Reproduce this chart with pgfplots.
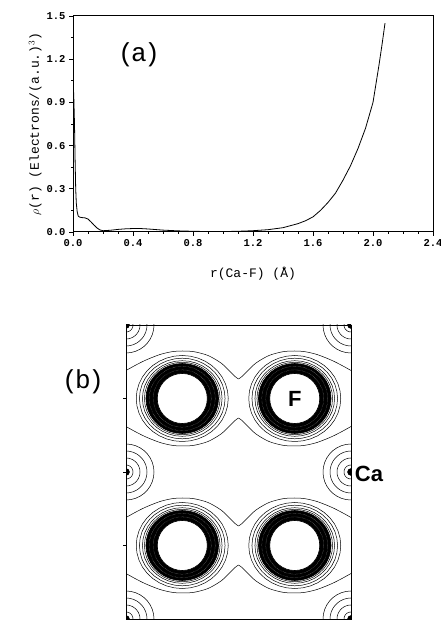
\documentclass[border=0pt]{standalone}
\usepackage{fontspec}
\setmainfont{Liberation Mono}
\newfontfamily\labelsans{Liberation Sans}
\usepackage{pgfplots}
\pgfplotsset{compat=1.18}
\usepackage{pgfplotstable}

% unit circle, 10 degree steps
\pgfplotstableread{
c s
1 0
0.9848 0.1736
0.9397 0.3420
0.8660 0.5
0.7660 0.6428
0.6428 0.7660
0.5 0.8660
0.3420 0.9397
0.1736 0.9848
0 1
-0.1736 0.9848
-0.3420 0.9397
-0.5 0.8660
-0.6428 0.7660
-0.7660 0.6428
-0.8660 0.5
-0.9397 0.3420
-0.9848 0.1736
-1 0
-0.9848 -0.1736
-0.9397 -0.3420
-0.8660 -0.5
-0.7660 -0.6428
-0.6428 -0.7660
-0.5 -0.8660
-0.3420 -0.9397
-0.1736 -0.9848
0 -1
0.1736 -0.9848
0.3420 -0.9397
0.5 -0.8660
0.6428 -0.7660
0.7660 -0.6428
0.8660 -0.5
0.9397 -0.3420
0.9848 -0.1736
1 0
}\unitc

% outer contour joining two F atoms (half, offset from the row centre)
\pgfplotstableread{
x dy
0 28
9 33
20 38.5
34 44
46 46.8
56.25 47.5
68 46.8
82 43
95 35.5
104 27
109 22
112.5 19.5
}\lobe

% rho(r) along Ca-F
\pgfplotstableread{
r rho
0.000 1.05
0.005 0.95
0.010 0.75
0.014 0.50
0.018 0.30
0.022 0.20
0.028 0.14
0.035 0.11
0.045 0.103
0.06 0.10
0.08 0.098
0.10 0.09
0.12 0.07
0.14 0.048
0.16 0.028
0.18 0.014
0.20 0.009
0.25 0.012
0.30 0.018
0.35 0.022
0.40 0.024
0.45 0.024
0.50 0.021
0.55 0.017
0.60 0.013
0.70 0.008
0.80 0.005
0.90 0.003
1.00 0.003
1.10 0.005
1.20 0.009
1.30 0.016
1.40 0.030
1.50 0.058
1.55 0.078
1.60 0.105
1.65 0.150
1.70 0.205
1.75 0.270
1.80 0.360
1.85 0.460
1.90 0.580
1.95 0.720
2.00 0.900
2.02 1.03
2.04 1.16
2.06 1.30
2.08 1.45
}\rhodata

\newcommand{\contourloop}[5][0.5pt]{\addplot[black, line width=#1] table[x expr={#2+#4*\thisrow{c}}, y expr={#3+#5*\thisrow{s}}] {\unitc};}
\newcommand{\filledloop}[5]{\addplot[draw=black, line width=0.6pt, fill=#1] table[x expr={#2+#4*\thisrow{c}}, y expr={#3+#5*\thisrow{s}}] {\unitc};}

\newcommand{\fatom}[2]{%
  \filledloop{black}{#1}{#2}{36.3}{35}
  \filledloop{white}{#1}{#2}{25}{25}
  \addplot[white, line width=0.25pt, densely dotted] table[x expr={#1+29*\thisrow{c}}, y expr={#2+28.7*\thisrow{s}}] {\unitc};
  \addplot[white, line width=0.25pt, densely dotted] table[x expr={#1+33*\thisrow{c}}, y expr={#2+32.2*\thisrow{s}}] {\unitc};
  \contourloop{#1}{#2}{37.8}{36.2}
  \contourloop{#1}{#2}{39.8}{37.8}
  \contourloop{#1}{#2}{42.8}{40.3}
  \contourloop{#1}{#2}{46}{43}
}

\newcommand{\caatom}[2]{%
  \contourloop{#1}{#2}{7}{7}
  \contourloop{#1}{#2}{14}{14}
  \contourloop{#1}{#2}{21}{21}
  \contourloop{#1}{#2}{28}{28}
}

\newcommand{\pair}[1]{%
  \addplot[black, line width=0.5pt, smooth] table[x=x, y expr={#1+\thisrow{dy}}] {\lobe};
  \addplot[black, line width=0.5pt, smooth] table[x expr={225-\thisrow{x}}, y expr={#1+\thisrow{dy}}] {\lobe};
  \addplot[black, line width=0.5pt, smooth] table[x=x, y expr={#1-\thisrow{dy}}] {\lobe};
  \addplot[black, line width=0.5pt, smooth] table[x expr={225-\thisrow{x}}, y expr={#1-\thisrow{dy}}] {\lobe};
}

\begin{document}
\begin{tikzpicture}[x=1pt, y=1pt]
\path[use as bounding box] (0,0) rectangle (440,621);

\begin{scope}[shift={(73,389)}]
\begin{axis}[
  width=360pt, height=216pt, scale only axis,
  xmin=0, xmax=2.4, ymin=0, ymax=1.5,
  xtick={0,0.4,0.8,1.2,1.6,2.0,2.4},
  ytick={0,0.3,0.6,0.9,1.2,1.5},
  minor x tick num=3, minor y tick num=1,
  xtick pos=bottom, ytick pos=left,
  tick align=outside,
  major tick length=4pt, minor tick length=2pt,
  tick style={black, line width=0.8pt},
  axis line style={line width=1pt},
  /pgf/number format/assume math mode=true,
  /pgf/number format/fixed, /pgf/number format/fixed zerofill,
  /pgf/number format/precision=1,
  tick label style={font=\bfseries\fontsize{10.5}{12}\selectfont},
  xlabel={r(Ca-F) (Å)},
  ylabel={$\rho$(r) (Electrons/(a.u.)$^3$)},
  label style={font=\fontsize{13}{14}\selectfont},
  xlabel style={yshift=-14pt},
  ylabel style={yshift=-2pt},
]
\addplot[black, line width=0.8pt] table[x=r, y=rho] {\rhodata};
\end{axis}
\end{scope}

\node[font=\fontsize{26}{26}\selectfont] at (139,566) {(\kern-2.5pt a\kern-2.5pt)};

\begin{scope}[shift={(126,2)}]
\begin{axis}[
  width=225pt, height=294pt, scale only axis,
  xmin=0, xmax=225, ymin=0, ymax=294,
  xtick=\empty, ytick={73.5,147,220.5}, yticklabels={},
  ytick pos=left, tick align=outside, major tick length=3pt,
  tick style={black, line width=0.6pt},
  axis line style={line width=0.9pt},
  clip marker paths=true,
]
\fatom{56.25}{73.5}
\fatom{168.75}{73.5}
\fatom{56.25}{220.5}
\fatom{168.75}{220.5}
\pair{220.5}
\pair{73.5}
\caatom{0}{0}
\caatom{225}{0}
\caatom{0}{147}
\caatom{225}{147}
\caatom{0}{294}
\caatom{225}{294}
\addplot[only marks, mark=*, mark size=3.5pt, black] coordinates {(0,0) (225,0) (0,147) (225,147) (0,294) (225,294)};
\end{axis}
\end{scope}

\node[font=\fontsize{26}{26}\selectfont] at (83,239) {(\kern-2.5pt b\kern-2.5pt)};
\node[font=\labelsans\bfseries\fontsize{22}{22}\selectfont] at (369,147) {Ca};
\node[font=\labelsans\bfseries\fontsize{22}{22}\selectfont] at (294.75,222.5) {F};
\end{tikzpicture}
\end{document}
